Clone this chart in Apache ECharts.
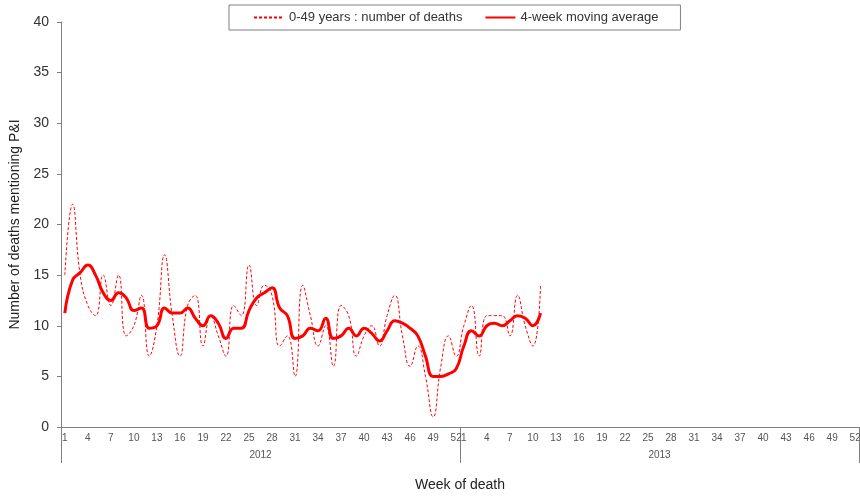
<!DOCTYPE html>
<html>
<head>
<meta charset="utf-8">
<script src="https://cdn.jsdelivr.net/npm/echarts@6/dist/echarts.min.js"></script>
<style>
  html, body { margin: 0; padding: 0; background: #fff; }
  #chart { width: 860px; height: 498px; }
</style>
</head>
<body>
<div id="chart"></div>
<script>
// weekly deaths mentioning P&I, 0-49 years
const years = ["2012", "2013"];
const weeksPerYear = 52;
const deaths2012 = [15, 22, 15, 12, 11, 15, 12, 15, 9, 10, 13, 7, 10, 17, 11, 7, 12, 13, 8, 11,
  9, 7, 12, 11, 16, 12, 14, 13, 8, 9, 5, 14, 11, 8, 10, 6, 12, 11, 7, 9,
  10, 8, 11, 13, 9, 6, 8, 5, 1, 6, 9, 7];
const deaths2013 = [10, 12, 7, 11, 11, 11, 9, 13, 10, 8, 14];
const avg2012 = [11.25, 14.5, 15.25, 16, 15, 13.25, 12.5, 13.25, 12.75, 11.5, 11.75, 9.75, 10, 11.75,
  11.25, 11.25, 11.75, 10.75, 10, 11, 10.25, 8.75, 9.75, 9.75, 11.5, 12.75, 13.25, 13.75,
  11.75, 11, 8.75, 9, 9.75, 9.5, 10.75, 8.75, 9, 9.75, 9, 9.75, 9.25, 8.5, 9.5, 10.5,
  10.25, 9.75, 9, 7, 5, 5, 5.25, 5.75];
const avg2013 = [8, 9.5, 9, 10, 10.25, 10, 10.5, 11, 10.75, 10, 11.25];

const weeks = [];
years.forEach(function (y) {
  for (let w = 1; w <= weeksPerYear; w++) weeks.push(String(w));
});
const deaths = deaths2012.concat(deaths2013);
const movingAvg = avg2012.concat(avg2013);

const chart = echarts.init(document.getElementById("chart"));
const font = "Liberation Sans, Arial, sans-serif";

chart.setOption({
  animation: false,
  textStyle: { fontFamily: font },
  legend: {
    top: 5,
    left: 229,
    padding: [6, 22, 6, 24],
    borderColor: "#808080",
    borderWidth: 1,
    itemWidth: 30,
    itemHeight: 10,
    itemGap: 22,
    itemStyle: { opacity: 0 },
    lineStyle: { opacity: 1 },
    textStyle: { fontSize: 13, color: "#333", fontFamily: font },
    data: ["0-49 years : number of deaths", "4-week moving average"]
  },
  grid: { left: 61, right: 1, top: 22, bottom: 71, outerBoundsMode: "none" },
  xAxis: [
    {
      type: "category",
      data: weeks,
      boundaryGap: true,
      axisLine: { lineStyle: { color: "#808080" } },
      axisTick: { show: false },
      axisLabel: {
        interval: function (i) { return (i % weeksPerYear) % 3 === 0; },
        fontSize: 10,
        color: "#555",
        margin: 6
      }
    },
    {
      type: "category",
      data: years,
      position: "bottom",
      boundaryGap: true,
      axisLine: { show: false },
      axisTick: { show: true, length: 36, lineStyle: { color: "#808080" } },
      axisLabel: { fontSize: 10, color: "#555", margin: 23 },
      name: "Week of death",
      nameLocation: "middle",
      nameGap: 51,
      nameTextStyle: { fontSize: 14, color: "#222" }
    }
  ],
  yAxis: {
    type: "value",
    min: 0,
    max: 40,
    interval: 5,
    name: "Number of deaths mentioning P&I",
    nameLocation: "middle",
    nameGap: 33,
    nameTextStyle: { fontSize: 14, color: "#222" },
    axisLine: { show: true, lineStyle: { color: "#808080" } },
    axisTick: { show: true, length: 4, lineStyle: { color: "#808080" } },
    axisLabel: { fontSize: 14, color: "#333", margin: 12 },
    splitLine: { show: false }
  },
  series: [
    {
      name: "0-49 years : number of deaths",
      type: "line",
      data: deaths,
      smooth: 0.5,
      symbol: "none",
      lineStyle: { color: "#ff0000", width: 1, type: [3, 2] },
      itemStyle: { color: "#ff0000" }
    },
    {
      name: "4-week moving average",
      type: "line",
      data: movingAvg,
      smooth: 0.5,
      symbol: "none",
      lineStyle: { color: "#ff0000", width: 3 },
      itemStyle: { color: "#ff0000" }
    }
  ]
});
</script>
</body>
</html>
